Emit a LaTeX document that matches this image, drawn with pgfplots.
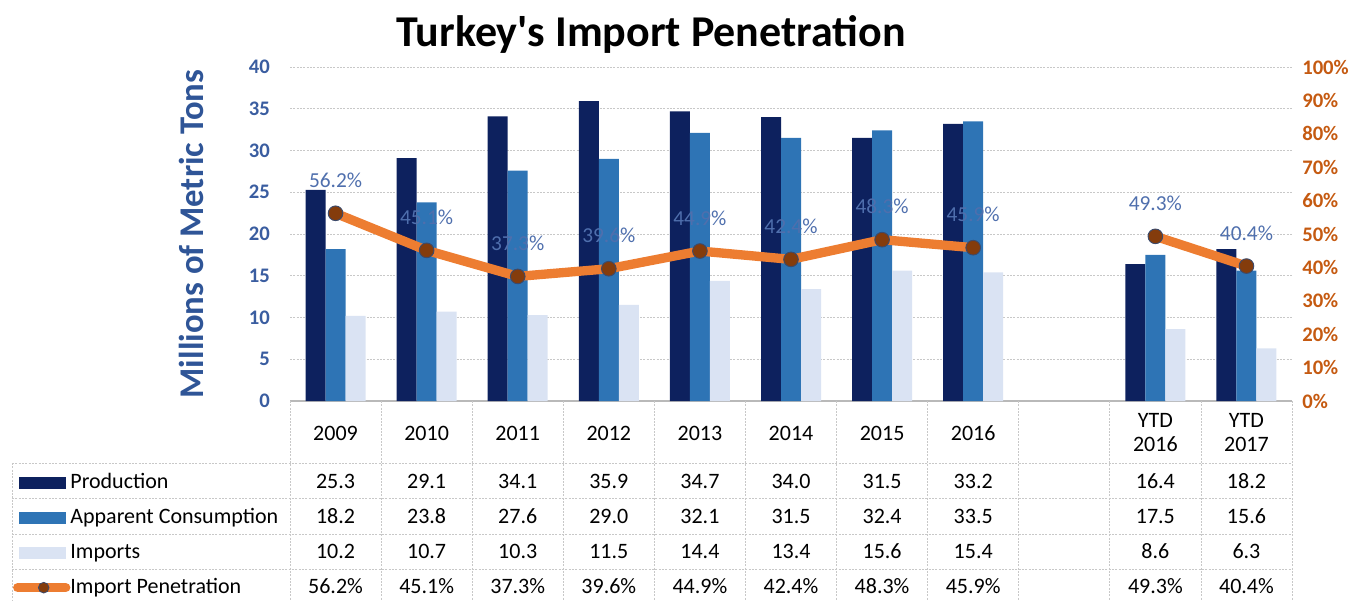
\documentclass[border=0pt]{standalone}
\usepackage{fontspec}
\setmainfont{Carlito}
\newfontfamily\plainfont{Carlito}
\usepackage{pgfplots}
\pgfplotsset{compat=1.18}
\usepackage{pgfplotstable}

\definecolor{prod}{HTML}{0D215E}
\definecolor{cons}{HTML}{2E74B5}
\definecolor{imp}{HTML}{DAE3F3}
\definecolor{pen}{HTML}{ED7D31}
\definecolor{mk}{HTML}{843C0C}
\definecolor{mkd}{HTML}{3C4A6B}
\definecolor{lab}{HTML}{4F6FAD}
\definecolor{ytk}{HTML}{3A5DA0}
\definecolor{ylab}{HTML}{2F5597}
\definecolor{rtk}{HTML}{C55A11}
\definecolor{gridc}{HTML}{C8C8C8}

\pgfplotstableread{
x prod cons imp pen
0 25.3 18.2 10.2 56.2
1 29.1 23.8 10.7 45.1
2 34.1 27.6 10.3 37.3
3 35.9 29.0 11.5 39.6
4 34.7 32.1 14.4 44.9
5 34.0 31.5 13.4 42.4
6 31.5 32.4 15.6 48.3
7 33.2 33.5 15.4 45.9
9 16.4 17.5 8.6 49.3
10 18.2 15.6 6.3 40.4
}\datatable

\newcommand{\tabfont}{\fontsize{16.5}{18}\selectfont}

\pgfplotsset{
  common/.style={scale only axis, width=751.5pt, height=250.5pt,
    xmin=-0.5, xmax=10.5, anchor=south west,
    /pgf/number format/assume math mode=true},
}

\begin{document}
\begin{tikzpicture}[x=0.75pt,y=0.75pt]
\useasboundingbox (0,0) rectangle (1366,601);

\node[font=\plainfont\bfseries\fontsize{33}{38}\selectfont] at (651,567) {Turkey's Import Penetration};

% bars (left axis)
\begin{axis}[common, at={(217.5pt,150pt)},
  ymin=0, ymax=40, ytick={0,5,...,40},
  ybar=0pt, bar width=15pt,
  axis x line*=bottom, axis y line*=left,
  x axis line style={gridc!80!gray, line width=0.8pt},
  y axis line style={draw=none},
  major tick length=0pt,
  ymajorgrids, grid style={gridc, dash pattern=on 1.5pt off 1pt, line width=0.6pt},
  yticklabel style={font=\bfseries\fontsize{15.5}{18}\selectfont, text=ytk, inner sep=0pt, xshift=-15pt},
  xtick={0,1,2,3,4,5,6,7,9,10},
  xticklabels={2009,2010,2011,2012,2013,2014,2015,2016,{YTD\\2016},{YTD\\2017}},
  xticklabel style={font=\tabfont, text=black, align=center, anchor=center, yshift=-24pt},
  ylabel={Millions of Metric Tons},
  every axis y label/.style={at={(axis description cs:-0.0985,0.5)}, rotate=90, anchor=center,
    font=\bfseries\fontsize{26}{30}\selectfont, text=ylab},
  legend cell align=left,
  legend style={at={(axis description cs:-0.2764,-0.2126)}, anchor=north west,
    draw=none, fill=none, inner sep=0pt, outer sep=0pt, row sep=10.25pt,
    font=\tabfont, nodes={inner sep=0pt, text height=12pt, text depth=4pt},
    /tikz/every even column/.append style={column sep=2.25pt}},
  clip=false,
]
\addplot[fill=prod, draw=none,
  legend image code/.code={\path[draw=none,fill=none] (0pt,-6pt) rectangle (42pt,6pt); \fill[prod] (3.75pt,-4.5pt) rectangle (39pt,4.5pt);}]
  table[x=x, y=prod]{\datatable};
\addlegendentry{Production}
\addplot[fill=cons, draw=none,
  legend image code/.code={\path[draw=none,fill=none] (0pt,-6pt) rectangle (42pt,6pt); \fill[cons] (3.75pt,-4.5pt) rectangle (39pt,4.5pt);}]
  table[x=x, y=cons]{\datatable};
\addlegendentry{Apparent Consumption}
\addplot[fill=imp, draw=none,
  legend image code/.code={\path[draw=none,fill=none] (0pt,-6pt) rectangle (42pt,6pt); \fill[imp] (3.75pt,-4.5pt) rectangle (39pt,4.5pt);}]
  table[x=x, y=imp]{\datatable};
\addlegendentry{Imports}
\addlegendimage{legend image code/.code={\path[draw=none,fill=none] (0pt,-6pt) rectangle (42pt,6pt);
  \draw[pen, line width=7pt, line cap=round] (3pt,0pt) -- (39pt,0pt);
  \filldraw[fill=mk, draw=mkd, line width=0.6pt] (22.5pt,0pt) circle (4pt);}}
\addlegendentry{Import Penetration}
\end{axis}

% line (right axis)
\begin{axis}[common, at={(217.5pt,150pt)},
  ymin=0, ymax=100, ytick={0,10,...,100},
  axis y line*=right, axis x line=none,
  y axis line style={draw=none}, major tick length=0pt,
  yticklabel={\pgfmathprintnumber{\tick}\%},
  yticklabel style={font=\bfseries\fontsize{15.5}{18}\selectfont, text=rtk, inner sep=0pt, xshift=7.5pt},
  clip=false,
]
\pgfplotsset{penline/.style={pen, line width=7pt, mark=*, mark size=5.5pt,
  mark options={fill=mk, draw=mkd, line width=0.7pt},
  point meta=explicit,
  nodes near coords={\pgfmathprintnumber[fixed,fixed zerofill,precision=1]{\pgfplotspointmeta}\%},
  nodes near coords style={anchor=base, inner sep=0pt, yshift=19.5pt,
    font=\fontsize{16}{18}\selectfont, text=lab}}}
\addplot[penline, skip coords between index={8}{10}] table[x=x, y=pen, meta=pen]{\datatable};
\addplot[penline, skip coords between index={0}{8}] table[x=x, y=pen, meta=pen]{\datatable};
\end{axis}

% data table values
\begin{axis}[scale only axis, width=751.5pt, height=450.75pt, at={(217.5pt,0pt)}, anchor=south west,
  xmin=-0.5, xmax=10.5, ymin=0, ymax=601, hide axis, clip=false,
  /pgf/number format/assume math mode=true,
  nodes near coords style={anchor=base, inner sep=0pt, font=\tabfont, text=black},
  point meta=explicit]
\addplot[draw=none, mark=none,
  nodes near coords={\pgfmathprintnumber[fixed,fixed zerofill,precision=1]{\pgfplotspointmeta}}]
  table[x=x, y expr=113, meta=prod]{\datatable};
\addplot[draw=none, mark=none,
  nodes near coords={\pgfmathprintnumber[fixed,fixed zerofill,precision=1]{\pgfplotspointmeta}}]
  table[x=x, y expr=78, meta=cons]{\datatable};
\addplot[draw=none, mark=none,
  nodes near coords={\pgfmathprintnumber[fixed,fixed zerofill,precision=1]{\pgfplotspointmeta}}]
  table[x=x, y expr=43, meta=imp]{\datatable};
\addplot[draw=none, mark=none,
  nodes near coords={\pgfmathprintnumber[fixed,fixed zerofill,precision=1]{\pgfplotspointmeta}\%}]
  table[x=x, y expr=8, meta=pen]{\datatable};
\end{axis}

% table grid
\begin{scope}[gridc, dash pattern=on 1.5pt off 1pt, line width=0.6pt]
\foreach \yy in {138,103,67,32} \draw (12,\yy) -- (1292,\yy);
\draw (12,138) -- (12,0);
\foreach \k in {0,...,11} \draw ({290+91.0909*\k},200) -- ({290+91.0909*\k},0);
\end{scope}
\end{tikzpicture}
\end{document}
